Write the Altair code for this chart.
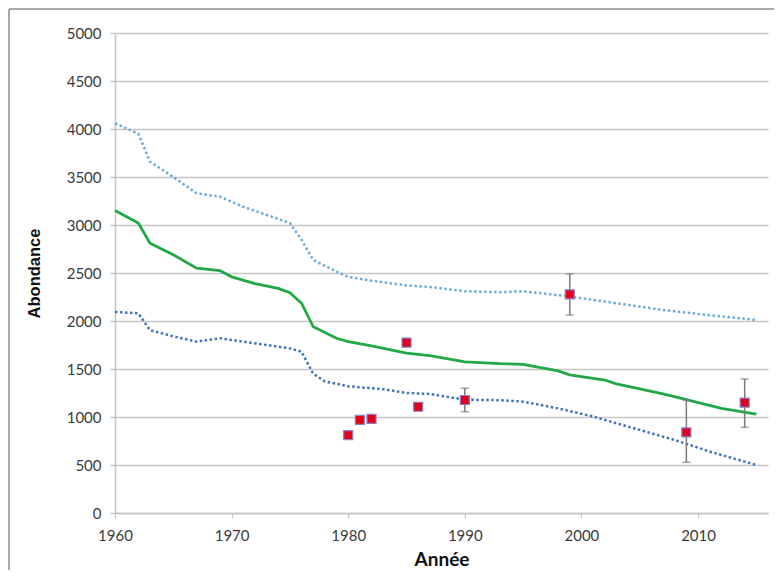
import altair as alt
import pandas as pd

# Central estimate (green)
mid_years = [1960, 1962, 1963, 1965, 1967, 1969, 1970, 1972, 1974, 1975, 1976, 1977, 1979, 1980,
             1982, 1985, 1987, 1990, 1993, 1995, 1998, 1999, 2002, 2003, 2007, 2009, 2012, 2015]
mid_vals = [3150, 3020, 2810, 2690, 2550, 2525, 2460, 2390, 2340, 2295, 2185, 1940, 1820, 1785,
            1740, 1665, 1640, 1575, 1555, 1549, 1480, 1440, 1385, 1345, 1240, 1180, 1090, 1030]

# Upper bound (light blue dotted)
up_years = [1960, 1962, 1963, 1965, 1967, 1969, 1971, 1973, 1975, 1976, 1977, 1979, 1980, 1982,
            1985, 1987, 1990, 1993, 1995, 1999, 2003, 2007, 2011, 2015]
up_vals = [4060, 3950, 3660, 3500, 3330, 3295, 3190, 3105, 3020, 2845, 2635, 2515, 2460, 2420,
           2370, 2355, 2310, 2300, 2310, 2255, 2185, 2115, 2060, 2010]

# Lower bound (dark blue dotted)
lo_years = [1960, 1962, 1963, 1965, 1967, 1969, 1971, 1973, 1975, 1976, 1977, 1978, 1980, 1983,
            1985, 1987, 1990, 1993, 1995, 1998, 2001, 2004, 2008, 2011, 2015]
lo_vals = [2095, 2080, 1905, 1840, 1785, 1820, 1785, 1750, 1715, 1680, 1450, 1370, 1320, 1290,
           1250, 1240, 1180, 1175, 1160, 1090, 1005, 900, 760, 640, 500]

# Observations
obs_years = [1980, 1981, 1982, 1985, 1986, 1990, 1999, 2009, 2014]
obs_vals = [812, 970, 980, 1775, 1107, 1177, 2278, 840, 1150]

# Error bars
err_years = [1990, 1999, 2009, 2014]
err_low = [1055, 2062, 528, 893]
err_high = [1300, 2490, 1177, 1396]

mid_df = pd.DataFrame({"year": mid_years, "val": mid_vals})
up_df = pd.DataFrame({"year": up_years, "val": up_vals})
lo_df = pd.DataFrame({"year": lo_years, "val": lo_vals})
obs_df = pd.DataFrame({"year": obs_years, "val": obs_vals})
err_df = pd.DataFrame({"year": err_years, "lo": err_low, "hi": err_high})

W, H = 653, 480

xscale = alt.Scale(domain=[1960, 2016], nice=False, zero=False)
yscale = alt.Scale(domain=[0, 5000], nice=False)

xaxis = alt.Axis(values=[1960, 1970, 1980, 1990, 2000, 2010], format="d", title="Année",
                 grid=False, domainColor="#c4c4c4", domainWidth=1.5, tickColor="#c4c4c4",
                 tickSize=5, tickWidth=1.2, labelFont="Lato", labelFontSize=15,
                 labelColor="#3a3a3a", labelPadding=10, labelFlush=False,
                 titleFont="Lato", titleFontSize=19,
                 titleFontWeight="bold", titleColor="#111111", titlePadding=7)
yaxis = alt.Axis(values=list(range(0, 5001, 500)), format="d", title="Abondance",
                 grid=True, gridColor="#c6c6c6", gridWidth=1.5, domainColor="#c4c4c4",
                 domainWidth=1.5, tickColor="#c4c4c4", tickSize=5, tickWidth=1.5,
                 labelFont="Lato", labelFontSize=15, labelColor="#3a3a3a", labelPadding=9,
                 labelFlush=False,
                 titleFont="Liberation Sans", titleFontSize=16.5, titleFontWeight="bold",
                 titleColor="#111111", titlePadding=24)

X = alt.X("year:Q", scale=xscale, axis=xaxis)
Y = alt.Y("val:Q", scale=yscale, axis=yaxis)

upper = alt.Chart(up_df).mark_line(color="#6aaed8", strokeWidth=2.5, strokeDash=[2.5, 2.5]).encode(x=X, y=Y)
lower = alt.Chart(lo_df).mark_line(color="#3e74ba", strokeWidth=2.5, strokeDash=[2.5, 2.5]).encode(
    x=alt.X("year:Q", scale=xscale), y=alt.Y("val:Q", scale=yscale))
mid = alt.Chart(mid_df).mark_line(color="#22a846", strokeWidth=2.8).encode(
    x=alt.X("year:Q", scale=xscale), y=alt.Y("val:Q", scale=yscale))

err_rule = alt.Chart(err_df).mark_rule(color="#7a7a7a", strokeWidth=1.5).encode(
    x=alt.X("year:Q", scale=xscale), y=alt.Y("lo:Q", scale=yscale), y2="hi:Q")
cap_lo = alt.Chart(err_df).mark_tick(color="#7a7a7a", orient="horizontal", size=8, thickness=1.5).encode(
    x=alt.X("year:Q", scale=xscale), y=alt.Y("lo:Q", scale=yscale))
cap_hi = alt.Chart(err_df).mark_tick(color="#7a7a7a", orient="horizontal", size=8, thickness=1.5).encode(
    x=alt.X("year:Q", scale=xscale), y=alt.Y("hi:Q", scale=yscale))

points = alt.Chart(obs_df).mark_square(size=81, color="#e3001b", stroke="#8a7fc8", strokeWidth=1.2,
                                       opacity=1, filled=True).encode(
    x=alt.X("year:Q", scale=xscale), y=alt.Y("val:Q", scale=yscale))

frame_left = alt.Chart().mark_rule(color="#555555", strokeWidth=1).encode(
    x=alt.value(-106), y=alt.value(-24), y2=alt.value(H + 60))
frame_top = alt.Chart().mark_rule(color="#555555", strokeWidth=1).encode(
    x=alt.value(-106), x2=alt.value(662), y=alt.value(-24))
frame_right = alt.Chart().mark_rule(color="#555555", strokeWidth=1).encode(
    x=alt.value(662), y=alt.value(-24), y2=alt.value(70))

chart = alt.layer(upper, lower, mid, err_rule, cap_lo, cap_hi, points,
                  frame_left, frame_top, frame_right).properties(
    width=W, height=H,
    autosize=alt.AutoSizeParams(type="none"),
    padding={"left": 107, "top": 25, "right": 6, "bottom": 57},
    background="white",
).configure_view(stroke=None)

chart.save("out.html", embed_options={"renderer": "svg", "actions": False})
